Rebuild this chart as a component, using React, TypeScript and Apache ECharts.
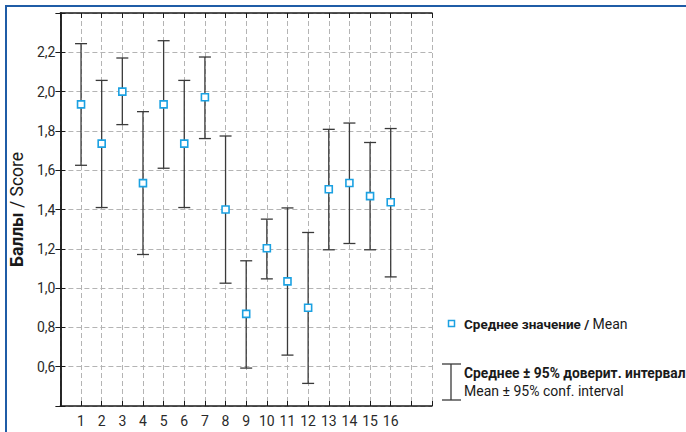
import React, { useEffect, useRef } from "react";
import * as echarts from "echarts";

const categories = [1, 2, 3, 4, 5, 6, 7, 8, 9, 10, 11, 12, 13, 14, 15, 16];
const means = [1.935, 1.735, 2.0, 1.534, 1.935, 1.735, 1.971, 1.4, 0.869, 1.203, 1.034, 0.9, 1.503, 1.535, 1.468, 1.437];
const lower = [1.625, 1.41, 1.832, 1.171, 1.61, 1.41, 1.761, 1.025, 0.593, 1.047, 0.659, 0.515, 1.195, 1.227, 1.195, 1.057];
const upper = [2.244, 2.057, 2.171, 1.898, 2.259, 2.057, 2.176, 1.774, 1.139, 1.351, 1.408, 1.283, 1.808, 1.84, 1.741, 1.812];
const yTickLabels = ["0,6", "0,8", "1,0", "1,2", "1,4", "1,6", "1,8", "2,0", "2,2"];

const FONT = 'Roboto, "Liberation Sans", sans-serif';
const MARKER = "#1ba1e2";
const BAR = "#3a3a3a";
const AXIS = "#1a1a1a";
const GRID = "#b4b4b4";
const FRAME = "#1f5ca6";

export default function App() {
  const ref = useRef<HTMLDivElement>(null);
  useEffect(() => {
    if (!ref.current) return;
    const chart = echarts.init(ref.current, null, { renderer: "svg" });
    const meanData = categories.map((c, i) => [c, means[i]]);
    const barData = categories.map((c, i) => [c, lower[i], upper[i]]);
    const yLabel = (v: number) => {
      const s = v.toFixed(1).replace(".", ",");
      return yTickLabels.includes(s) ? s : "";
    };
    const common = { fontFamily: FONT };
    chart.setOption({
      animation: false,
      textStyle: common,
      grid: { left: 60, top: 13, right: 254, bottom: 26 },
      xAxis: [
        {
          type: "value",
          min: 0,
          max: 18,
          interval: 1,
          position: "bottom",
          axisLine: { show: true, lineStyle: { color: AXIS, width: 1.5 } },
          axisTick: { show: true, inside: true, length: 5, lineStyle: { color: AXIS } },
          axisLabel: {
            margin: 8,
            color: "#2a2a2a",
            fontSize: 14,
            fontFamily: FONT,
            formatter: (v: number) => (categories.includes(v) ? String(v) : ""),
          },
          splitLine: { show: true, lineStyle: { color: GRID, type: [5, 3], width: 1 } },
        },
        {
          type: "value",
          min: 0,
          max: 18,
          interval: 1,
          position: "top",
          axisLine: { show: true, lineStyle: { color: AXIS, width: 1.5 } },
          axisTick: { show: true, inside: true, length: 5, lineStyle: { color: AXIS } },
          axisLabel: { show: false },
          splitLine: { show: false },
        },
      ],
      yAxis: [
        {
          type: "value",
          min: 0.4,
          max: 2.4,
          interval: 0.2,
          position: "left",
          name: "{b|Баллы} / Score",
          nameLocation: "middle",
          nameRotate: 90,
          nameGap: 30,
          nameTextStyle: {
            fontFamily: FONT,
            fontSize: 17.5,
            color: "#1a1a1a",
            rich: { b: { fontFamily: FONT, fontSize: 17.5, fontWeight: "bold", color: "#1a1a1a" } },
          },
          axisLine: { show: true, lineStyle: { color: AXIS, width: 1.5 } },
          axisTick: { show: true, inside: true, length: 5, lineStyle: { color: AXIS } },
          axisLabel: { margin: 5, color: "#2a2a2a", fontSize: 14, fontFamily: FONT, formatter: yLabel },
          splitLine: { show: true, lineStyle: { color: GRID, type: [5, 3], width: 1 } },
        },
        {
          type: "value",
          min: 0.4,
          max: 2.4,
          interval: 0.2,
          position: "right",
          axisLine: { show: true, lineStyle: { color: AXIS, width: 1.5 } },
          axisTick: { show: true, inside: true, length: 5, lineStyle: { color: AXIS } },
          axisLabel: { show: false },
          splitLine: { show: false },
        },
      ],
      series: [
        {
          type: "custom",
          xAxisIndex: 0,
          yAxisIndex: 0,
          data: barData,
          z: 3,
          renderItem: (params: any, api: any) => {
            const x = api.value(0);
            const lo = api.coord([x, api.value(1)]);
            const hi = api.coord([x, api.value(2)]);
            const hw = 6;
            const style = { stroke: BAR, lineWidth: 1.3, fill: "none" };
            return {
              type: "group",
              children: [
                { type: "line", shape: { x1: lo[0], y1: lo[1], x2: hi[0], y2: hi[1] }, style },
                { type: "line", shape: { x1: hi[0] - hw, y1: hi[1], x2: hi[0] + hw, y2: hi[1] }, style },
                { type: "line", shape: { x1: lo[0] - hw, y1: lo[1], x2: lo[0] + hw, y2: lo[1] }, style },
              ],
            };
          },
        },
        {
          type: "scatter",
          xAxisIndex: 0,
          yAxisIndex: 0,
          data: meanData,
          symbol: "rect",
          symbolSize: 7,
          z: 5,
          itemStyle: { color: "#ffffff", borderColor: MARKER, borderWidth: 1.6, opacity: 1 },
        },
      ],
      graphic: [
        { type: "rect", shape: { x: 5, y: 5, width: 681, height: 2 }, style: { fill: FRAME } },
        { type: "rect", shape: { x: 5, y: 5, width: 2, height: 427 }, style: { fill: FRAME } },
        {
          type: "rect",
          shape: { x: 448.5, y: 320.5, width: 6, height: 6 },
          style: { fill: "#ffffff", stroke: MARKER, lineWidth: 1.5 },
        },
        {
          type: "text",
          x: 464,
          y: 324,
          style: {
            text: "{b|Среднее значение /} {n|Mean}",
            fontFamily: FONT,
            fontSize: 13.5,
            fill: "#1a1a1a",
            verticalAlign: "middle",
            rich: {
              b: { fontFamily: FONT, fontSize: 13.5, fontWeight: "bold", fill: "#1a1a1a" },
              n: { fontFamily: FONT, fontSize: 14, fill: "#1a1a1a" },
            },
          },
        },
        { type: "line", shape: { x1: 451, y1: 364, x2: 451, y2: 400 }, style: { stroke: BAR, lineWidth: 1.3 } },
        { type: "line", shape: { x1: 442, y1: 364, x2: 461, y2: 364 }, style: { stroke: BAR, lineWidth: 1.3 } },
        { type: "line", shape: { x1: 442, y1: 400, x2: 461, y2: 400 }, style: { stroke: BAR, lineWidth: 1.3 } },
        {
          type: "text",
          x: 464,
          y: 373,
          style: {
            text: "Среднее ± 95% доверит. интервал",
            fontFamily: FONT,
            fontSize: 13.8,
            fontWeight: "bold",
            fill: "#1a1a1a",
            verticalAlign: "middle",
          },
        },
        {
          type: "text",
          x: 464,
          y: 391,
          style: {
            text: "Mean ± 95% conf. interval",
            fontFamily: FONT,
            fontSize: 14,
            fill: "#1a1a1a",
            verticalAlign: "middle",
          },
        },
      ],
    });
    return () => chart.dispose();
  }, []);
  return (
    <div
      ref={ref}
      style={{ position: "absolute", left: 0, top: 0, width: 686, height: 432, background: "#ffffff" }}
    />
  );
}
